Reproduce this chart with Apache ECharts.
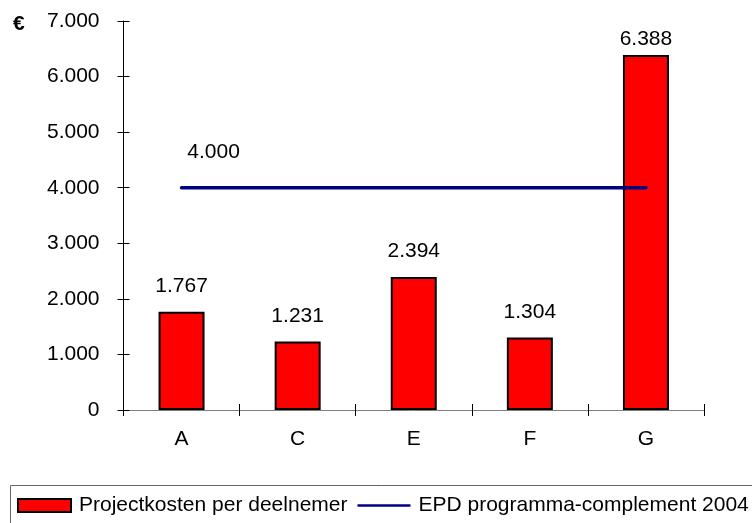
<!DOCTYPE html>
<html>
<head>
<meta charset="utf-8">
<script src="https://cdn.jsdelivr.net/npm/echarts@6/dist/echarts.min.js"></script>
<style>
  html, body { margin: 0; padding: 0; background: #fff; }
  #chart { width: 752px; height: 523px; }
</style>
</head>
<body>
<div id="chart"></div>
<script>
// gegevens
var categories = ['A', 'C', 'E', 'F', 'G'];
var kosten = [1767, 1231, 2394, 1304, 6388];      // Projectkosten per deelnemer
var complement = [4000, 4000, 4000, 4000, 4000];  // EPD programma-complement 2004
var yTicks = [0, 1000, 2000, 3000, 4000, 5000, 6000, 7000];

var FONT = 'Liberation Sans, Arial, sans-serif';

// duizendtallen met punt
function fmt(v) {
  return String(Math.round(v)).replace(/\B(?=(\d{3})+(?!\d))/g, '.');
}

var chart = echarts.init(document.getElementById('chart'));

var barData = kosten.map(function (v, i) {
  var item = { value: v };
  if (i === kosten.length - 1) {
    item.label = { distance: 5 };
  }
  return item;
});

// alleen het eerste punt krijgt een label
var lineData = complement.map(function (v, i) {
  var item = { value: v };
  if (i === 0) {
    item.label = {
      show: true,
      position: 'top',
      distance: 0,
      offset: [32, -25],
      formatter: function (p) { return fmt(p.value); },
      color: '#000',
      fontSize: 21,
      fontFamily: FONT
    };
  }
  return item;
});

var yMax = yTicks[yTicks.length - 1];
var yStep = yTicks[1] - yTicks[0];

chart.setOption({
  animation: false,
  backgroundColor: '#fff',
  textStyle: { fontFamily: FONT },
  title: {
    text: '€',
    left: 8,
    top: 9,
    textStyle: { fontSize: 21, fontWeight: 'bold', color: '#000', fontFamily: FONT }
  },
  graphic: [{
    type: 'rect',
    shape: { x: 10.5, y: 485.5, width: 800, height: 100 },
    style: { fill: 'none', stroke: '#666', lineWidth: 1 },
    z: -1
  }],
  legend: {
    left: 17,
    top: 495,
    padding: 0,
    itemWidth: 53,
    itemHeight: 13,
    itemGap: 10,
    textStyle: { fontSize: 21, color: '#000', fontFamily: FONT, padding: [0, 0, 0, 3] },
    data: [
      { name: 'Projectkosten per deelnemer', icon: 'rect' },
      { name: 'EPD programma-complement 2004', icon: 'path://M0,0H60V3H0Z' }
    ]
  },
  grid: { left: 123.5, right: 48, top: 21, bottom: 113 },
  xAxis: [{
    type: 'category',
    data: categories,
    axisLine: { lineStyle: { color: '#7f7f7f', width: 1 } },
    axisTick: { show: true, length: 6, alignWithLabel: false, lineStyle: { color: '#000' } },
    axisLabel: { color: '#000', fontSize: 21, margin: 19, fontFamily: FONT }
  }, {
    type: 'category',
    data: categories,
    position: 'bottom',
    axisLine: { show: false },
    axisTick: { show: true, inside: true, length: 6, lineStyle: { color: '#000' } },
    axisLabel: { show: false }
  }],
  yAxis: [{
    type: 'value',
    min: 0,
    max: yMax,
    interval: yStep,
    splitLine: { show: false },
    axisLine: { show: true, lineStyle: { color: '#000', width: 1 } },
    axisTick: { show: true, length: 6, lineStyle: { color: '#000' } },
    axisLabel: {
      color: '#000', fontSize: 21, margin: 24, fontFamily: FONT,
      formatter: function (v) { return fmt(v); }
    }
  }, {
    type: 'value',
    min: 0,
    max: yMax,
    interval: yStep,
    position: 'left',
    splitLine: { show: false },
    axisLine: { show: false },
    axisTick: { show: true, inside: true, length: 6, lineStyle: { color: '#000' } },
    axisLabel: { show: false }
  }],
  series: [{
    name: 'Projectkosten per deelnemer',
    type: 'bar',
    data: barData,
    barWidth: 46,
    itemStyle: { color: '#ff0000', borderColor: '#000', borderWidth: 2 },
    label: {
      show: true,
      position: 'top',
      distance: 15,
      color: '#000',
      fontSize: 21,
      fontFamily: FONT,
      formatter: function (p) { return fmt(p.value); }
    }
  }, {
    name: 'EPD programma-complement 2004',
    type: 'line',
    data: lineData,
    symbol: 'circle',
    symbolSize: 0,
    showSymbol: true,
    color: '#000080',
    itemStyle: { color: '#000080' },
    lineStyle: { color: '#000080', width: 3.5, cap: 'round' },
    z: 3
  }]
});
</script>
</body>
</html>
